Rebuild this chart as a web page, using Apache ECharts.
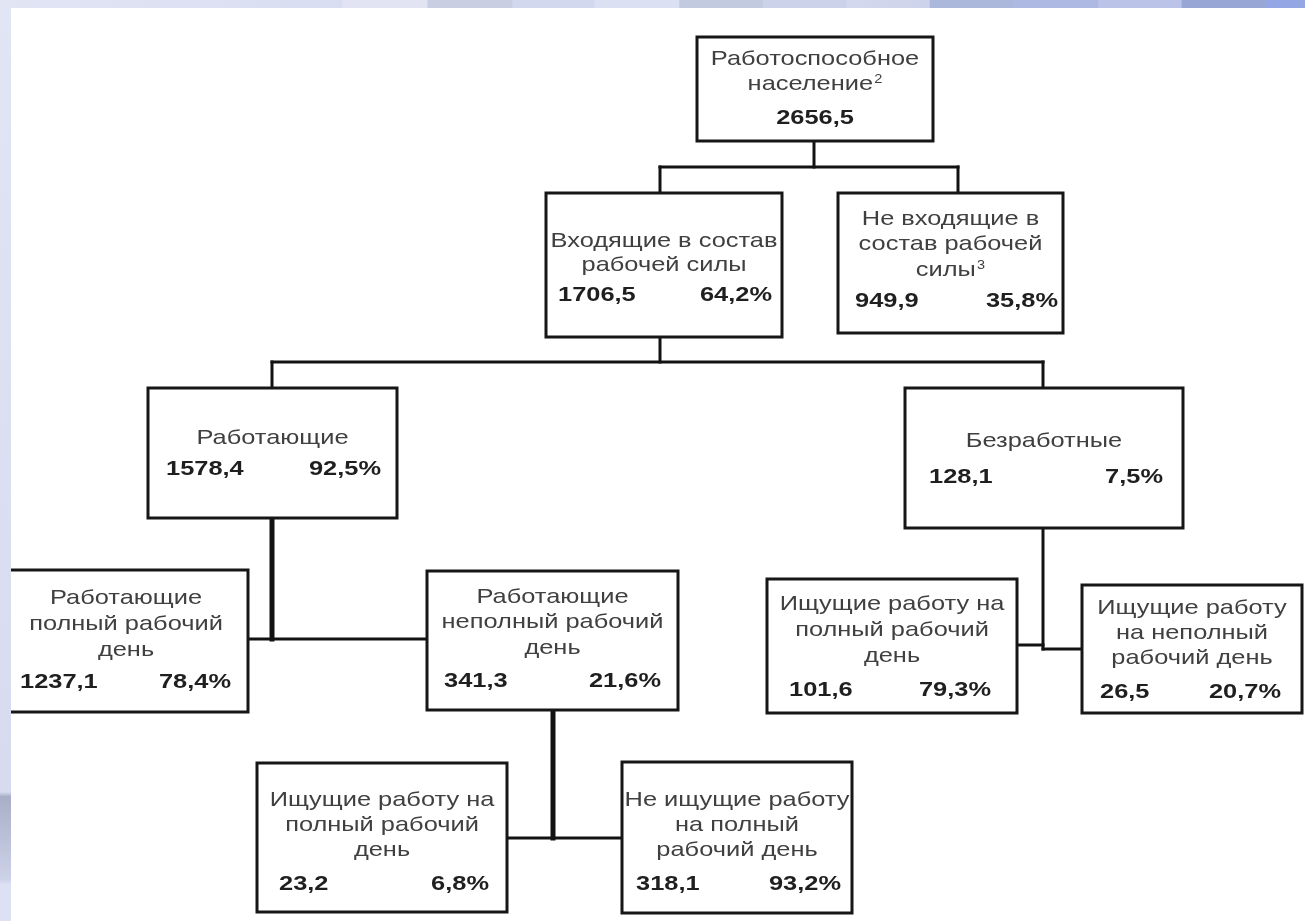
<!DOCTYPE html>
<html><head><meta charset="utf-8">
<script src="https://cdn.jsdelivr.net/npm/echarts@6/dist/echarts.min.js"></script>
<style>html,body{margin:0;padding:0;background:#fff}#c{width:1305px;height:921px}</style>
</head><body><div id="c"></div>
<script>
// ---- DATA ----
const nodeTitles = [
  ["Работоспособное", "население²"],
  ["Входящие в состав", "рабочей силы"],
  ["Не входящие в", "состав рабочей", "силы³"],
  ["Работающие"],
  ["Безработные"],
  ["Работающие", "полный рабочий", "день"],
  ["Работающие", "неполный рабочий", "день"],
  ["Ищущие работу на", "полный рабочий", "день"],
  ["Не ищущие работу", "на полный", "рабочий день"],
  ["Ищущие работу на", "полный рабочий", "день"],
  ["Ищущие работу", "на неполный", "рабочий день"]
];
const nodeValues = [2656.5, 1706.5, 949.9, 1578.4, 128.1, 1237.1, 341.3, 23.2, 318.1, 101.6, 26.5];
const nodeShares = [null, 64.2, 35.8, 92.5, 7.5, 78.4, 21.6, 6.8, 93.2, 79.3, 20.7];
const parentIndex = [-1, 0, 0, 1, 1, 3, 3, 6, 6, 4, 4];

// ---- LAYOUT (chart space, 1305 x 921) ----
const boxLayout = [
  {x:697, y:37,  w:236, h:104, t:59,  lh:25,   n:118, ax:814},
  {x:546, y:193, w:236, h:144, t:241, lh:24,   n:295, nl:558,  nr:772, ax:660},
  {x:838, y:193, w:225, h:140, t:219, lh:25.5, n:301, nl:855,  nr:1058, ax:958},
  {x:148, y:388, w:249, h:130, t:438, lh:25,   n:469, nl:166,  nr:381, ax:272},
  {x:905, y:388, w:278, h:140, t:441, lh:25,   n:477, nl:929,  nr:1163, ax:1043},
  {x:4,   y:570, w:244, h:142, t:598, lh:26,   n:682, nl:20,   nr:231},
  {x:427, y:571, w:251, h:139, t:597, lh:25.5, n:681, nl:444,  nr:661, ax:553},
  {x:257, y:763, w:250, h:149, t:800, lh:25,   n:884, nl:279,  nr:489},
  {x:622, y:762, w:230, h:151, t:800, lh:25,   n:884, nl:636,  nr:841},
  {x:767, y:579, w:250, h:134, t:604, lh:26,   n:690, nl:789,  nr:991},
  {x:1082,y:585, w:220, h:128, t:608, lh:25,   n:692, nl:1100, nr:1281}
];
// connector style for each parent: 'bus' (horizontal bar above children) or 'side' (joins children's sides)
const linkLayout = {
  0: {style:'bus',  y:167, pw:3, cw:3},
  1: {style:'bus',  y:362, pw:3, cw:3},
  3: {style:'side', ys:{5:639, 6:639}, pw:5, cw:3},
  6: {style:'side', ys:{7:838, 8:838}, pw:5, cw:3},
  4: {style:'side', ys:{9:645, 10:649}, pw:3, cw:3}
};

const fmt = v => v.toFixed(1).replace('.', ',');
const parents = Object.keys(linkLayout).map(Number);
const SX = 1.21;
const FONT = '"Liberation Sans", Arial, sans-serif';
const SUP = {'²': '2', '³': '3'};
const richLine = s => s.replace(/[²³]/g, c => '{s|' + SUP[c] + '}');

function cx(L) { return L.ax !== undefined ? L.ax : L.x + L.w / 2; }

const chart = echarts.init(document.getElementById('c'), null, {renderer: 'canvas'});
chart.setOption({
  backgroundColor: '#ffffff',
  animation: false,
  grid: {left: 0, right: 0, top: 0, bottom: 0},
  xAxis: {type: 'value', min: 0, max: 1305, show: false},
  yAxis: {type: 'value', min: 0, max: 921, inverse: true, show: false},
  graphic: [
    {type: 'rect', z: 100, shape: {x: 0, y: 0, width: 1305, height: 8},
     style: {fill: new echarts.graphic.LinearGradient(0, 0, 1, 0, [
       {offset: 0, color: '#e1e6f5'}, {offset: 0.262, color: '#d9ddf1'},
       {offset: 0.263, color: '#e3e4f3'}, {offset: 0.327, color: '#e3e4f3'},
       {offset: 0.328, color: '#c9cee2'}, {offset: 0.392, color: '#c9cee2'},
       {offset: 0.393, color: '#d2d9ee'}, {offset: 0.455, color: '#d2d9ee'},
       {offset: 0.456, color: '#dbe0f2'}, {offset: 0.520, color: '#dbe0f2'},
       {offset: 0.521, color: '#c2cadf'}, {offset: 0.584, color: '#c2cadf'},
       {offset: 0.585, color: '#cbd2ea'}, {offset: 0.648, color: '#cbd2ea'},
       {offset: 0.649, color: '#d3d8ee'}, {offset: 0.712, color: '#cdd3ea'},
       {offset: 0.713, color: '#abb7db'}, {offset: 0.776, color: '#abb7db'},
       {offset: 0.777, color: '#aeb9e3'}, {offset: 0.841, color: '#aeb9e3'},
       {offset: 0.842, color: '#bcc3e8'}, {offset: 0.905, color: '#bcc3e8'},
       {offset: 0.906, color: '#98a6d6'}, {offset: 0.969, color: '#98a6d6'},
       {offset: 0.970, color: '#95a6e4'}, {offset: 1, color: '#95a6e4'}
     ])}},
    {type: 'rect', z: 100, shape: {x: 0, y: 0, width: 11, height: 921},
     style: {fill: new echarts.graphic.LinearGradient(0, 0, 0, 1, [
       {offset: 0, color: '#e1e5f4'}, {offset: 0.86, color: '#d6dbef'},
       {offset: 0.865, color: '#a9afc6'}, {offset: 0.955, color: '#cdd2e9'},
       {offset: 0.96, color: '#dde1f3'}, {offset: 1, color: '#dde1f3'}
     ])}}
  ],
  series: [
    {
      type: 'custom',
      name: 'links',
      coordinateSystem: 'cartesian2d',
      z: 2,
      data: parents.map(p => [p, 0]),
      renderItem: function (params, api) {
        const p = api.value(0);
        const LL = linkLayout[p];
        const P = boxLayout[p];
        const kids = parentIndex.map((v, i) => v === p ? i : -1).filter(i => i >= 0);
        const pax = cx(P);
        const segs = [];
        const lineStyle = w => ({stroke: '#121212', lineWidth: w, fill: null, lineJoin: 'miter', lineCap: 'square'});
        const seg = (pts, w) => segs.push({type: 'polyline', shape: {points: pts.map(q => api.coord(q))}, style: lineStyle(w)});
        if (LL.style === 'bus') {
          seg([[pax, P.y + P.h], [pax, LL.y]], LL.pw);
          const xs = kids.map(k => cx(boxLayout[k]));
          seg([[Math.min.apply(null, xs), LL.y], [Math.max.apply(null, xs), LL.y]], LL.cw);
          kids.forEach(k => seg([[cx(boxLayout[k]), LL.y], [cx(boxLayout[k]), boxLayout[k].y]], LL.cw));
        } else {
          const ys = kids.map(k => LL.ys[k]);
          seg([[pax, P.y + P.h], [pax, Math.max.apply(null, ys)]], LL.pw);
          kids.forEach(k => {
            const C = boxLayout[k];
            const edge = (C.x + C.w / 2) < pax ? C.x + C.w : C.x;
            seg([[edge, LL.ys[k]], [pax, LL.ys[k]]], LL.cw);
          });
        }
        return {type: 'group', children: segs};
      }
    },
    {
      type: 'custom',
      name: 'boxes',
      coordinateSystem: 'cartesian2d',
      z: 3,
      data: nodeValues.map((v, i) => [i, v]),
      renderItem: function (params, api) {
        const i = api.value(0);
        const L = boxLayout[i];
        const p0 = api.coord([L.x, L.y]);
        const p1 = api.coord([L.x + L.w, L.y + L.h]);
        const children = [{
          type: 'rect',
          shape: {x: p0[0], y: p0[1], width: p1[0] - p0[0], height: p1[1] - p0[1]},
          style: {fill: '#ffffff', stroke: '#161616', lineWidth: 3}
        }];
        const midX = (L.x + L.w / 2);
        nodeTitles[i].forEach((line, j) => {
          const q = api.coord([midX, L.t + j * L.lh]);
          children.push({
            type: 'text', x: q[0], y: q[1], scaleX: SX,
            style: {text: richLine(line), x: 0, y: 0, align: 'center', verticalAlign: 'middle',
                    fill: '#404040', fontSize: 21, fontFamily: FONT,
                    rich: {s: {fontSize: 12, fill: '#404040', fontFamily: FONT, verticalAlign: 'top', padding: [0, 0, 8, 1]}}}
          });
        });
        const numStyle = {fill: '#1f1f1f', fontSize: 21, fontWeight: 'bold', fontFamily: FONT, verticalAlign: 'middle', x: 0, y: 0};
        if (nodeShares[i] === null) {
          const q = api.coord([midX, L.n]);
          children.push({type: 'text', x: q[0], y: q[1], scaleX: SX,
            style: Object.assign({text: fmt(api.value(1)), align: 'center'}, numStyle)});
        } else {
          const ql = api.coord([L.nl, L.n]);
          const qr = api.coord([L.nr, L.n]);
          children.push({type: 'text', x: ql[0], y: ql[1], scaleX: SX,
            style: Object.assign({text: fmt(api.value(1)), align: 'left'}, numStyle)});
          children.push({type: 'text', x: qr[0], y: qr[1], scaleX: SX,
            style: Object.assign({text: fmt(nodeShares[i]) + '%', align: 'right'}, numStyle)});
        }
        return {type: 'group', children: children};
      }
    }
  ]
});
</script>
</body></html>
